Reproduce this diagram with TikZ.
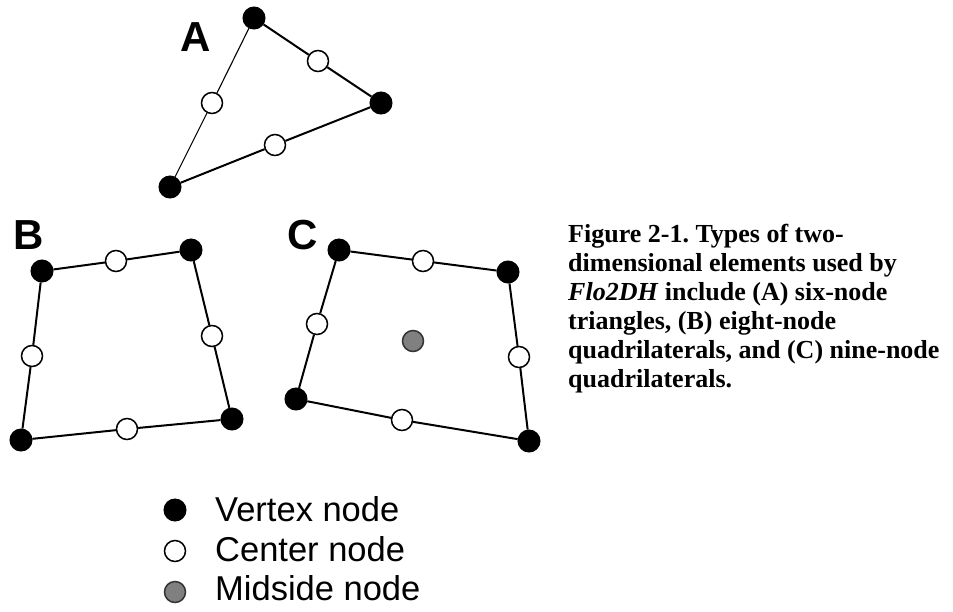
\documentclass[tikz,border=0pt]{standalone}
\usepackage{fontspec}
\setmainfont{Liberation Serif}
\newfontfamily\arialfont{Liberation Sans}
\frenchspacing
\begin{document}
\begin{tikzpicture}[x=1pt,y=-1pt,
  vtx/.style={circle,fill=black,draw=black,line width=1pt,inner sep=0pt,minimum size=22pt},
  ctr/.style={circle,fill=white,draw=black,line width=1.5pt,inner sep=0pt,minimum size=21pt},
  midnode/.style={circle,fill=black!50,draw=black!80,line width=1.5pt,inner sep=0pt,minimum size=21pt},
  elemline/.style={line width=2pt},
  thinline/.style={line width=1.1pt},
  lbl/.style={font=\arialfont\bfseries\fontsize{42}{42}\selectfont,anchor=base west,inner sep=0pt},
  captext/.style={font=\bfseries\fontsize{26}{29}\selectfont,anchor=base west,inner sep=0pt},
  leg/.style={font=\arialfont\fontsize{34.5}{36}\selectfont,anchor=base west,inner sep=0pt}]
\path[use as bounding box] (0,0) rectangle (953,611);

% ---- A: six-node triangle
\node[vtx] (at) at (254,18) {};
\node[vtx] (ar) at (381,103) {};
\node[vtx] (ab) at (170,187) {};
\node[ctr] (ac1) at (318,61) {};
\node[ctr] (ac2) at (212,103) {};
\node[ctr] (ac3) at (275,145) {};
\draw[elemline] (at) -- (ac1) -- (ar) -- (ac3) -- (ab);
\draw[thinline] (ab) -- (ac2) -- (at);
\node[lbl] (la) at (180,51) {A};

% ---- B: eight-node quadrilateral
\node[vtx] (b1) at (42,271) {};
\node[vtx] (b2) at (191,250) {};
\node[vtx] (b3) at (232,419) {};
\node[vtx] (b4) at (21,440) {};
\node[ctr] (bc1) at (116,261) {};
\node[ctr] (bc2) at (212,336) {};
\node[ctr] (bc3) at (127,429) {};
\node[ctr] (bc4) at (32,356) {};
\draw[elemline] (b1) -- (bc1) -- (b2) -- (bc2) -- (b3) -- (bc3) -- (b4) -- (bc4) -- (b1);
\node[lbl] (lb) at (13,249) {B};

% ---- C: nine-node quadrilateral
\node[vtx] (c1) at (339,250) {};
\node[vtx] (c2) at (508,272) {};
\node[vtx] (c3) at (529,441) {};
\node[vtx] (c4) at (296,399) {};
\node[ctr] (cc1) at (423,261) {};
\node[ctr] (cc2) at (519,357) {};
\node[ctr] (cc3) at (402,420) {};
\node[ctr] (cc4) at (317,324) {};
\node[midnode] (cm) at (413,341) {};
\draw[elemline] (c1) -- (cc1) -- (c2) -- (cc2) -- (c3) -- (cc3) -- (c4) -- (cc4) -- (c1);
\node[lbl] (lc) at (287,249) {C};

% ---- caption
\node[captext] (t1) at (568,242) {Figure 2-1. Types of two-};
\node[captext] (t2) at (568,271) {dimensional elements used by};
\node[captext] (t3) at (568,300) {\textit{Flo2DH} include (A) six-node};
\node[captext] (t4) at (568,329) {triangles, (B) eight-node};
\node[captext] (t5) at (568,358) {quadrilaterals, and (C) nine-node};
\node[captext] (t6) at (568,387) {quadrilaterals.};

% ---- legend
\node[vtx] (kv) at (175,510) {};
\node[ctr] (kc) at (175,551) {};
\node[midnode] (km) at (175,592) {};
\node[leg] (tv) at (215,521) {Vertex node};
\node[leg] (tc) at (215,561) {Center node};
\node[leg] (tm) at (215,600) {Midside node};
\end{tikzpicture}
\end{document}
